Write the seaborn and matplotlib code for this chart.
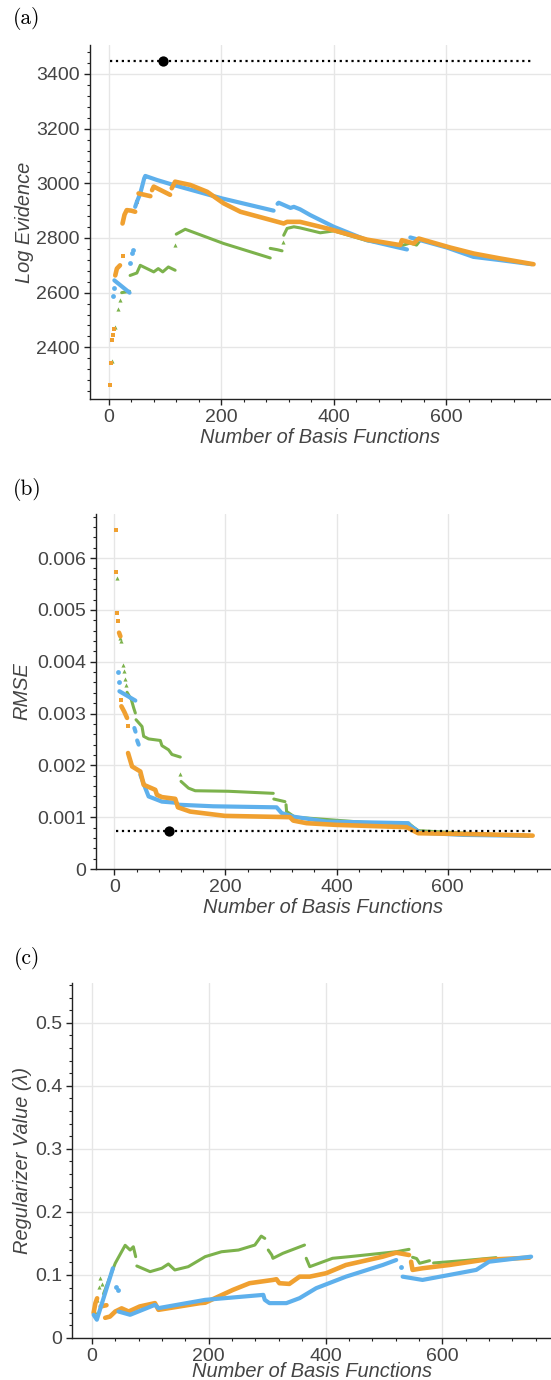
import matplotlib
matplotlib.use("Agg")
import matplotlib.pyplot as plt
import seaborn as sns
import pandas as pd
from matplotlib.ticker import MultipleLocator, FixedLocator, FixedFormatter

# ---------------- data ----------------
# Each series is a list of segments; a segment is a list of (x, y) points.
# Segments with a single point are isolated dots.

# Panel (a): Log Evidence
A_BLUE = [
    [(7.5, 2588)], [(8.5, 2617)],
    [(10, 2645), (37, 2600)],
    [(38, 2710)], [(41, 2745)], [(44, 2755)],
    [(47, 2914), (50, 2932), (56, 2963), (60, 2994), (63, 3018), (65, 3027), (86, 3012),
     (115, 2994), (201, 2945), (293, 2900)],
    [(300, 2925), (302, 2929), (323, 2910), (329, 2914), (340, 2905), (358, 2884),
     (400, 2841), (459, 2792), (530, 2758)],
    [(536, 2802), (601, 2765), (648, 2731), (696, 2719), (752, 2704)],
]
A_ORANGE = [
    [(2.7, 2263)], [(4, 2343)], [(5.6, 2428)], [(7, 2446)], [(10, 2468)],
    [(11.6, 2663), (14.5, 2688), (20, 2700)],
    [(24.5, 2733)],
    [(24.5, 2853), (28, 2885), (32, 2902), (40, 2900), (47, 2896)],
    [(50, 2932)],
    [(53, 2963), (74, 2953)],
    [(77, 2975), (80, 2988), (109, 2958)],
    [(112, 2982), (118, 3006), (145, 2994), (175, 2969), (204, 2927), (234, 2896),
     (311, 2853), (317, 2859), (340, 2859), (376, 2841), (388, 2835), (459, 2794),
     (518, 2774), (521, 2792), (542, 2780), (551, 2798), (607, 2765), (649, 2743),
     (696, 2725), (755, 2704)],
]
A_GREEN = [
    [(5.6, 2351)], [(11.6, 2474)], [(15.7, 2541)], [(20, 2572)],
    [(23, 2600), (37, 2605)],
    [(38, 2663), (50, 2672), (56, 2700), (68, 2688), (80, 2676), (88, 2688), (96, 2676),
     (106, 2694), (118, 2682)],
    [(118, 2774)],
    [(120, 2814), (136, 2832), (204, 2780), (287, 2727)],
    [(287, 2762), (300, 2757), (308, 2753)],
    [(310, 2786)],
    [(311, 2810), (317, 2835), (329, 2841), (340, 2837), (376, 2819), (400, 2826),
     (459, 2790), (518, 2770), (536, 2782), (547, 2774), (555, 2795), (607, 2762),
     (649, 2740), (696, 2722)],
]
A_REF_X = [3, 752]
A_REF_Y = 3446
A_BEST_X = 96

# Panel (b): RMSE
B_BLUE = [
    [(6.6, 0.0038)], [(7.8, 0.0036)],
    [(9, 0.00343), (37.7, 0.00325)],
    [(36, 0.00272), (38, 0.00265)],
    [(41, 0.00248), (43.7, 0.00240)],
    [(46.7, 0.00182), (55.7, 0.00156), (61.6, 0.0014), (85.6, 0.0013), (109.6, 0.00128),
     (115.5, 0.00124), (178, 0.00121), (292, 0.00119), (301, 0.00108), (322, 0.00101),
     (382, 0.000915), (529, 0.000884), (531, 0.000846), (550, 0.000702),
     (627, 0.000658), (745, 0.00064)],
]
B_ORANGE = [
    [(3, 0.006538)], [(3.6, 0.00573)], [(4.8, 0.004946)], [(6.6, 0.004784)],
    [(8.4, 0.00456), (10.8, 0.00449)],
    [(12, 0.00327)],
    [(12.6, 0.00314), (18, 0.00303), (22.8, 0.002915)],
    [(24, 0.00275)],
    [(24.6, 0.002238), (31.8, 0.001979), (46.7, 0.001882), (49.7, 0.001754),
     (52.7, 0.001625), (73.6, 0.001528), (76.6, 0.001431), (85.6, 0.001387),
     (109.6, 0.001354), (114.4, 0.00119), (136.5, 0.001108), (199, 0.001025),
     (316, 0.001), (322, 0.000934), (346, 0.000884), (400, 0.000851), (526, 0.000807),
     (547, 0.00069), (657, 0.000671), (753, 0.000644)],
]
B_GREEN = [
    [(4.8, 0.00561)], [(10.8, 0.00446)], [(12.6, 0.0044)], [(15, 0.00393)],
    [(16.7, 0.00382)], [(19.8, 0.00366)], [(21, 0.00356)],
    [(22.8, 0.00341), (30.5, 0.00327), (34.7, 0.00311), (37.7, 0.00301)],
    [(39, 0.00288), (49.7, 0.00275), (52.7, 0.00256), (61.6, 0.00251), (82.6, 0.00248),
     (85.6, 0.00238), (97.5, 0.0023), (103.6, 0.00221), (118.6, 0.00216)],
    [(118.6, 0.00184)],
    [(120, 0.00169), (133.5, 0.00156), (145.5, 0.00151), (205, 0.0015), (286, 0.00146)],
    [(287, 0.00135), (307, 0.0013)],
    [(309, 0.00124), (310, 0.00111), (325, 0.001), (376, 0.00096), (450, 0.0009),
     (530, 0.00088), (538, 0.00081), (547, 0.00074), (650, 0.00068), (700, 0.00066)],
]
B_REF_X = [3, 752]
B_REF_Y = 0.000735
B_BEST_X = 98

# Panel (c): Regularizer value
C_BLUE = [
    [(3, 0.0368), (8.5, 0.029), (36, 0.1106)],
    [(42, 0.0815)], [(44, 0.0763)],
    [(45.6, 0.042), (65.5, 0.0368), (108, 0.0526), (114, 0.0474), (194, 0.0605),
     (293.5, 0.0684), (296, 0.0605), (304, 0.0553), (333, 0.0553), (355.6, 0.0632),
     (384, 0.079), (435, 0.0973), (498, 0.1158), (521, 0.1237)],
    [(529, 0.112)],
    [(532, 0.0973), (566, 0.0921), (612, 0.1), (658, 0.108), (680, 0.121), (752, 0.129)],
]
C_ORANGE = [
    [(3, 0.04), (6, 0.055), (9, 0.063)],
    [(15, 0.05), (25, 0.052)],
    [(22.8, 0.032), (31, 0.034), (40, 0.042), (51, 0.047), (63, 0.042), (82, 0.05),
     (108, 0.0553), (114, 0.0447), (185, 0.0553), (194, 0.056), (241.5, 0.0763),
     (270, 0.0869), (310, 0.0921), (316, 0.0932), (321, 0.0869), (338, 0.0858),
     (355.6, 0.0973), (373, 0.0973), (401, 0.1027), (435, 0.1158), (498, 0.129),
     (521, 0.1353), (543, 0.1316)],
    [(546.5, 0.121), (549, 0.108), (566, 0.1106), (612, 0.1158), (669, 0.1237),
     (749, 0.1274)],
]
C_GREEN = [
    [(5.7, 0.042)], [(8.5, 0.0605)], [(11.4, 0.0815)], [(14.2, 0.0948)], [(17, 0.085)],
    [(20, 0.07), (40, 0.1185), (57, 0.147), (65.5, 0.1395), (71, 0.1447), (75, 0.129)],
    [(77, 0.1142), (99.7, 0.1052), (119.7, 0.1106), (131, 0.1174), (142, 0.1079),
     (165, 0.1131), (194, 0.129), (222, 0.1368), (251, 0.1395), (279, 0.1474),
     (290, 0.1616), (296, 0.158)],
    [(302, 0.1395), (308, 0.1316), (310, 0.1264), (327, 0.1343), (364, 0.1474)],
    [(367, 0.1264), (373, 0.1131), (412, 0.1264), (441, 0.129), (521, 0.1368),
     (543, 0.1406)],
    [(549, 0.128), (556, 0.126), (561, 0.1185), (578, 0.1226)],
    [(585, 0.119), (640, 0.123), (692, 0.1274)],
]

X_TICKS = [0, 200, 400, 600]
A_YTICKS = [2400, 2600, 2800, 3000, 3200, 3400]
B_YTICKS = [0, 0.001, 0.002, 0.003, 0.004, 0.005, 0.006]
B_YTICKLABELS = ["0", "0.001", "0.002", "0.003", "0.004", "0.005", "0.006"]
C_YTICKS = [0, 0.1, 0.2, 0.3, 0.4, 0.5]
C_YTICKLABELS = ["0", "0.1", "0.2", "0.3", "0.4", "0.5"]

XLABEL = "Number of Basis Functions"
YLABELS = ["Log Evidence", "RMSE", "Regularizer Value (\u03bb)"]
PANEL_TAGS = ["(a)", "(b)", "(c)"]

# ---------------- style ----------------
BLUE = "#5eb0ec"
ORANGE = "#f0a030"
GREEN = "#7cb24c"
TEXT = "#444444"

sns.set_style("ticks")
plt.rcParams["font.family"] = ["Liberation Sans", "DejaVu Sans"]
plt.rcParams["axes.unicode_minus"] = False

W, H = 551, 1380
fig = plt.figure(figsize=(W / 100, H / 100), dpi=100)


def add_axes_px(left, top, right, bottom):
    return fig.add_axes([left / W, 1 - bottom / H, (right - left) / W, (bottom - top) / H])


def to_frames(segments):
    rows = []
    for i, seg in enumerate(segments):
        for x, y in seg:
            rows.append({"x": x, "y": y, "seg": i, "n": len(seg)})
    df = pd.DataFrame(rows)
    return df[df["n"] > 1], df[df["n"] == 1]


STYLE = {
    "blue": dict(color=BLUE, lw=3.0, marker="o", s=12),
    "orange": dict(color=ORANGE, lw=3.3, marker="s", s=12),
    "green": dict(color=GREEN, lw=2.2, marker="^", s=9),
}


def draw_series(ax, segments, key):
    st = STYLE[key]
    lines, dots = to_frames(segments)
    if len(lines):
        sns.lineplot(data=lines, x="x", y="y", units="seg", estimator=None, sort=False,
                     color=st["color"], lw=st["lw"], ax=ax, legend=False,
                     solid_capstyle="round")
    if len(dots):
        sns.scatterplot(data=dots, x="x", y="y", marker=st["marker"], s=st["s"],
                        color=st["color"], linewidth=0, ax=ax, legend=False)


def style_axes(ax, ylim, yticks, yticklabels, yminor, ylabel, label_x_px, left_px,
               right_px, xlabel_y=-0.082):
    ax.set_xlim(-34, 786)
    ax.set_ylim(*ylim)
    ax.xaxis.set_major_locator(FixedLocator(X_TICKS))
    ax.xaxis.set_minor_locator(MultipleLocator(40))
    ax.yaxis.set_major_locator(FixedLocator(yticks))
    if yticklabels is not None:
        ax.yaxis.set_major_formatter(FixedFormatter(yticklabels))
    ax.yaxis.set_minor_locator(MultipleLocator(yminor))
    ax.grid(True, which="major", color="#e6e6e6", lw=1.0)
    ax.set_axisbelow(True)
    for s in ["top", "right"]:
        ax.spines[s].set_visible(False)
    for s in ["left", "bottom"]:
        ax.spines[s].set_color("#222222")
        ax.spines[s].set_linewidth(1.0)
    ax.tick_params(which="major", length=4, width=1.0, color="#222222",
                   labelsize=14, labelcolor=TEXT, pad=3)
    ax.tick_params(which="minor", length=2.5, width=0.8, color="#222222")
    ax.set_xlabel(XLABEL, fontsize=14.4, style="italic", color=TEXT, labelpad=0)
    ax.xaxis.set_label_coords(0.5, xlabel_y)
    ax.set_ylabel(ylabel, fontsize=14.4, style="italic", color=TEXT, va="center")
    ax.yaxis.set_label_coords((label_x_px - left_px) / (right_px - left_px), 0.5)


# ---------------- panel (a) ----------------
axA = add_axes_px(89.6, 45, 551, 399)
draw_series(axA, A_GREEN, "green")
draw_series(axA, A_BLUE, "blue")
draw_series(axA, A_ORANGE, "orange")
sns.lineplot(x=A_REF_X, y=[A_REF_Y] * 2, color="black", linestyle=":", lw=1.6, ax=axA)
sns.scatterplot(x=[A_BEST_X], y=[A_REF_Y], color="black", s=55, linewidth=0, ax=axA)
style_axes(axA, (2211, 3506), A_YTICKS, None, 40, YLABELS[0], 25, 89.6, 551)

# ---------------- panel (b) ----------------
axB = add_axes_px(95.5, 514, 551, 869)
draw_series(axB, B_GREEN, "green")
draw_series(axB, B_BLUE, "blue")
draw_series(axB, B_ORANGE, "orange")
sns.lineplot(x=B_REF_X, y=[B_REF_Y] * 2, color="black", linestyle=":", lw=1.6, ax=axB)
sns.scatterplot(x=[B_BEST_X], y=[B_REF_Y], color="black", s=55, linewidth=0, ax=axB)
style_axes(axB, (0, 0.00685), B_YTICKS, B_YTICKLABELS, 0.0002, YLABELS[1], 22, 95.5, 551)

# ---------------- panel (c) ----------------
axC = add_axes_px(72, 983, 551, 1338)
draw_series(axC, C_GREEN, "green")
draw_series(axC, C_ORANGE, "orange")
draw_series(axC, C_BLUE, "blue")
style_axes(axC, (0, 0.563), C_YTICKS, C_YTICKLABELS, 0.02, YLABELS[2], 23, 72, 551,
           xlabel_y=-0.068)

# panel tags
for tag, ypx in zip(PANEL_TAGS, [19, 489, 958]):
    fig.text(27 / W, 1 - ypx / H, tag, fontsize=15.5, family="cmr10",
             ha="center", va="center", color="black")

fig.savefig("out.png", dpi=100)
